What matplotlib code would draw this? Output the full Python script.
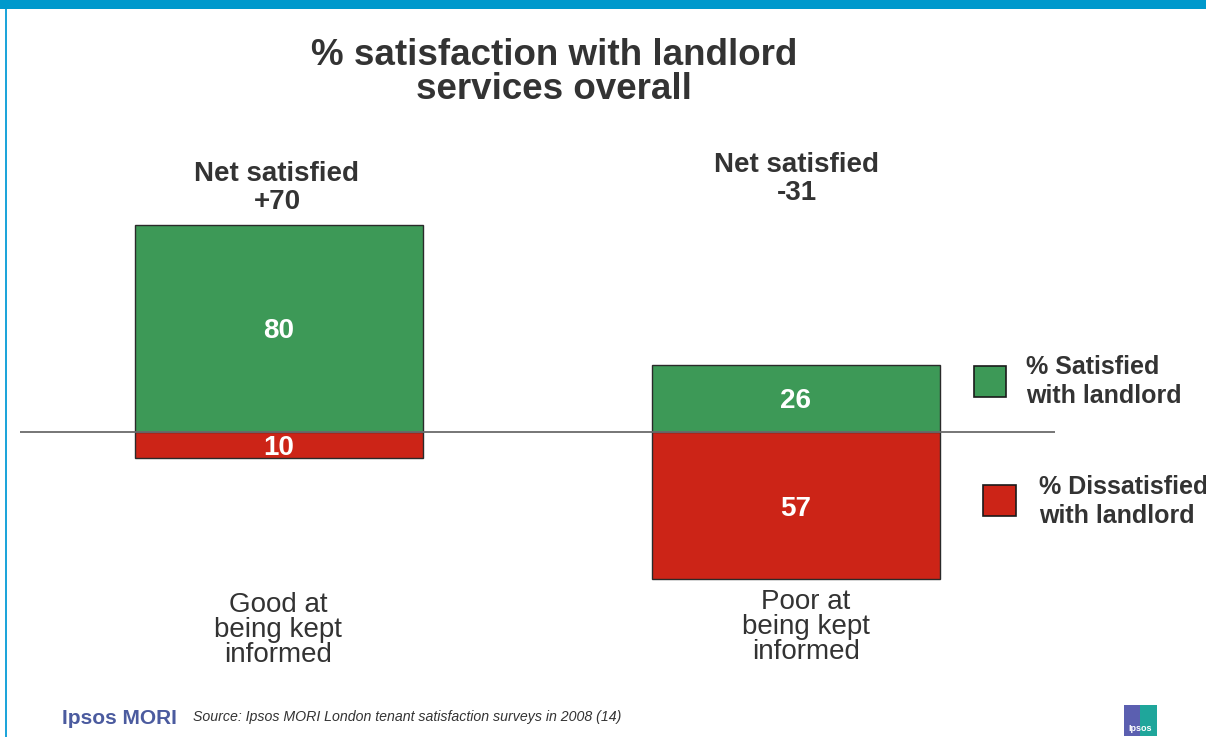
import matplotlib
matplotlib.use("Agg")
import matplotlib.pyplot as plt
from matplotlib.patches import Rectangle

plt.rcParams["font.family"] = ["Liberation Sans", "DejaVu Sans"]

# data
categories = ["Good at\nbeing kept\ninformed", "Poor at\nbeing kept\ninformed"]
satisfied = [80, 26]
dissatisfied = [10, 57]
legend_labels = ["% Satisfied\nwith landlord", "% Dissatisfied\nwith landlord"]
title = "% satisfaction with landlord\nservices overall"
source = "Source: Ipsos MORI London tenant satisfaction surveys in 2008 (14)"

GREEN = "#3d9957"
RED = "#cc2417"
TEXT = "#333333"
W, H = 1206, 737


def px(x, y):
    return x / W, 1 - y / H


fig = plt.figure(figsize=(W / 100, H / 100), dpi=100)

# axes placed so the zero line sits at y=432 px, spanning x 20..1055 px
top_px, bot_px, zero_px = 140, 600, 432
unit = (432 - 225) / 80.0
ax = fig.add_axes([20 / W, 1 - bot_px / H, (1055 - 20) / W, (bot_px - top_px) / H])
ax.set_xlim(-0.5015, 1.5024)
ax.set_ylim(-(bot_px - zero_px) / unit, (zero_px - top_px) / unit)
ax.axis("off")

x = list(range(len(categories)))
bw = 0.5576
ax.bar(x, satisfied, width=bw, color=GREEN, edgecolor="#2a2a2a", linewidth=1)
ax.bar(x, [-d for d in dissatisfied], width=bw, color=RED, edgecolor="#2a2a2a", linewidth=1)
ax.axhline(0, color="#6b6b6b", linewidth=1.3, zorder=3)

for i in x:
    ax.text(i, satisfied[i] / 2, str(satisfied[i]), ha="center", va="center_baseline",
            color="white", fontsize=20, fontweight="bold")
    ax.text(i, -dissatisfied[i] / 2, str(dissatisfied[i]), ha="center", va="center_baseline",
            color="white", fontsize=20, fontweight="bold", zorder=4)

# title (positions are the baseline of the last line)
fig.text(*px(554, 99), title, ha="center", va="baseline", fontsize=26.5,
         fontweight="bold", color=TEXT, linespacing=0.96)

# net satisfied labels
net_pos = [(277, 209), (797, 200)]
for i, (nx, ny) in enumerate(net_pos):
    net = satisfied[i] - dissatisfied[i]
    fig.text(*px(nx, ny), f"Net satisfied\n{net:+d}", ha="center", va="baseline",
             fontsize=20, fontweight="bold", color=TEXT, linespacing=1.09)

# category labels
cat_pos = [(278, 662), (806, 659)]
for lab, (cx, cy) in zip(categories, cat_pos):
    fig.text(*px(cx, cy), lab, ha="center", va="baseline", fontsize=20,
             color=TEXT, linespacing=0.94)

# legend
leg_boxes = [(974, 366, 32, 31, GREEN), (983, 485, 33, 31, RED)]
leg_text = [(1026, 403), (1039, 523)]
for (bx, by, bwid, bh, col), (tx, ty), lab in zip(leg_boxes, leg_text, legend_labels):
    fig.patches.append(Rectangle(px(bx, by + bh), bwid / W, bh / H, transform=fig.transFigure,
                                 facecolor=col, edgecolor="#1a1a1a", linewidth=1.2))
    fig.text(*px(tx, ty), lab, ha="left", va="baseline", fontsize=18,
             fontweight="bold", color=TEXT, linespacing=1.25)

# frame decoration
fig.patches.append(Rectangle(px(0, 9), 1, 9 / H, transform=fig.transFigure,
                             facecolor="#0099cc", edgecolor="none"))
fig.patches.append(Rectangle(px(5, H), 2 / W, (H - 9) / H, transform=fig.transFigure,
                             facecolor="#1ea5da", edgecolor="none"))

# footer
fig.text(*px(62, 724), "Ipsos MORI", ha="left", va="baseline", fontsize=15,
         fontweight="bold", color="#4b5b9f")
fig.text(*px(193, 721), source, ha="left", va="baseline", fontsize=10.2,
         style="italic", color=TEXT)

# small Ipsos logo
fig.patches.append(Rectangle(px(1124, 736), 16 / W, 31 / H, transform=fig.transFigure,
                             facecolor="#5b5fb0", edgecolor="none"))
fig.patches.append(Rectangle(px(1140, 736), 17 / W, 31 / H, transform=fig.transFigure,
                             facecolor="#1fa69b", edgecolor="none"))
fig.text(*px(1140, 731), "Ipsos", ha="center", va="baseline", fontsize=6.5,
         fontweight="bold", color="white")

fig.savefig("out.png", dpi=100)
